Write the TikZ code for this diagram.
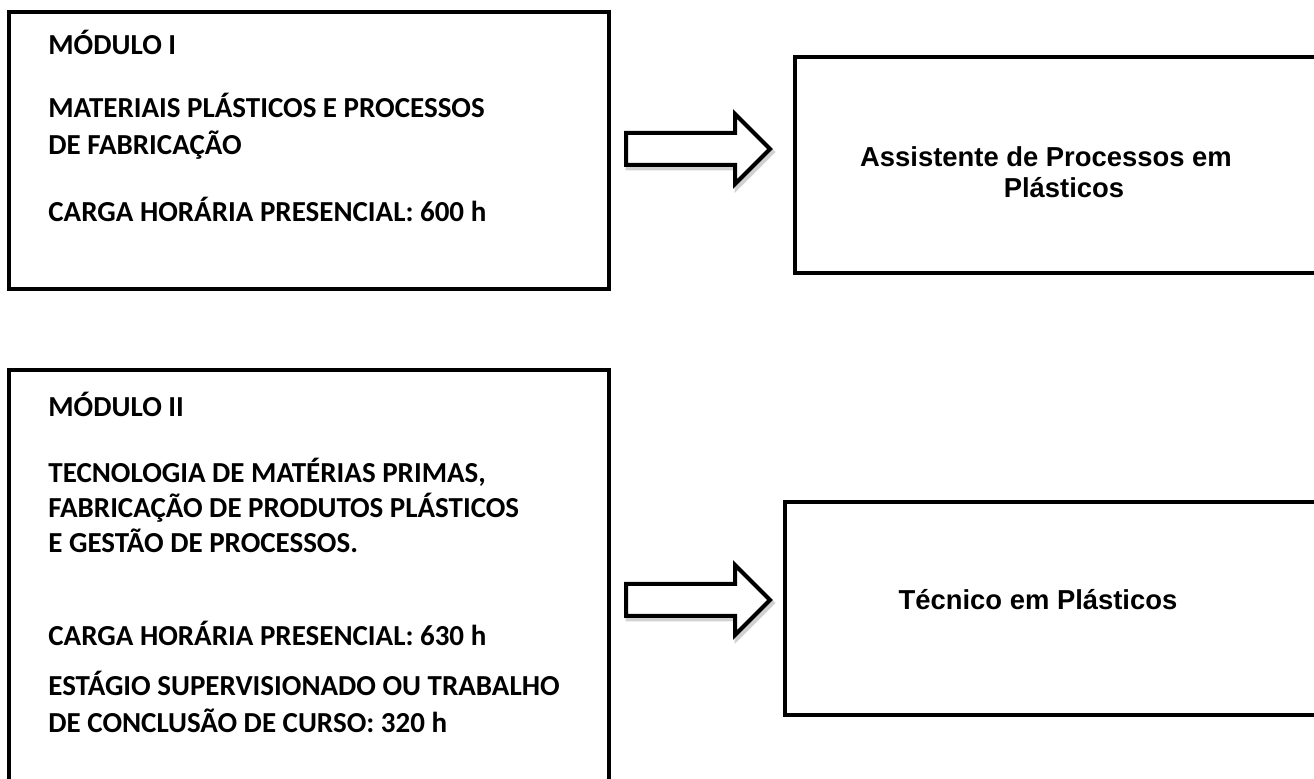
\documentclass[tikz,border=0pt]{standalone}
\usepackage{fontspec}
\newfontfamily\calibri{Carlito}
\newfontfamily\arial{Liberation Sans}

\tikzset{
	seta/.style={draw=black, line width=2pt, fill=white},
	sombra/.style={draw=black!30, line width=2.5pt, opacity=0.6}
}
\newcommand{\blocoseta}{++(0,-16) -- ++(109,0) -- ++(0,-19) -- ++(35,35) -- ++(-35,35) -- ++(0,-19) -- ++(-109,0) -- cycle}

\begin{document}
\begin{tikzpicture}[x=0.5pt, y=-0.5pt]
	\useasboundingbox (0,0) rectangle (1314,779);

	\begin{scope}[every node/.style={rectangle, draw=black, line width=2pt, inner sep=0pt}]
		\node[minimum width=300.4pt, minimum height=138.3pt] (m1) at (308.9,150.3) {};
		\node[minimum width=267.7pt, minimum height=107.9pt] (q1) at (1062.4,165.2) {};
		\node[minimum width=300.4pt, minimum height=210pt] (m2) at (308.9,580) {};
		\node[minimum width=272.7pt, minimum height=106.5pt] (q2) at (1057.4,608.5) {};
	\end{scope}

	\begin{scope}[every node/.style={anchor=base west, inner sep=0pt,
	              font=\calibri\bfseries\fontsize{14.5}{17}\selectfont}]
		\foreach \y/\txt [count=\i] in {55/{MÓDULO I},
				118/{MATERIAIS PLÁSTICOS E PROCESSOS},
				155/{DE FABRICAÇÃO},
				222/{CARGA HORÁRIA PRESENCIAL: 600 h}}
		{
			\node (m1l\i) at (48,\y) {\txt};
		}
		\foreach \y/\txt [count=\i] in {417/{MÓDULO II},
				483/{TECNOLOGIA DE MATÉRIAS PRIMAS,},
				518/{FABRICAÇÃO DE PRODUTOS PLÁSTICOS},
				553/{E GESTÃO DE PROCESSOS.},
				646/{CARGA HORÁRIA PRESENCIAL: 630 h},
				696/{ESTÁGIO SUPERVISIONADO OU TRABALHO},
				733/{DE CONCLUSÃO DE CURSO: 320 h}}
		{
			\node (m2l\i) at (48,\y) {\txt};
		}
	\end{scope}

	\begin{scope}[every node/.style={align=center, inner sep=0pt,
	              font=\arial\bfseries\fontsize{13.7}{15.5}\selectfont}]
		\node (q1t) at (1046,172) {Assistente de Processos em\\\hspace*{18pt}Plásticos};
		\node (q2t) at (1038,600) {Técnico em Plásticos};
	\end{scope}

	% block arrows between the boxes
	\coordinate (s1) at (626,149);
	\coordinate (s2) at (626,600);
	\foreach \s in {s1,s2}
	{
		\draw[sombra] ([shift={(2,3)}]\s) \blocoseta;
		\draw[seta] (\s) \blocoseta;
	}
\end{tikzpicture}
\end{document}
